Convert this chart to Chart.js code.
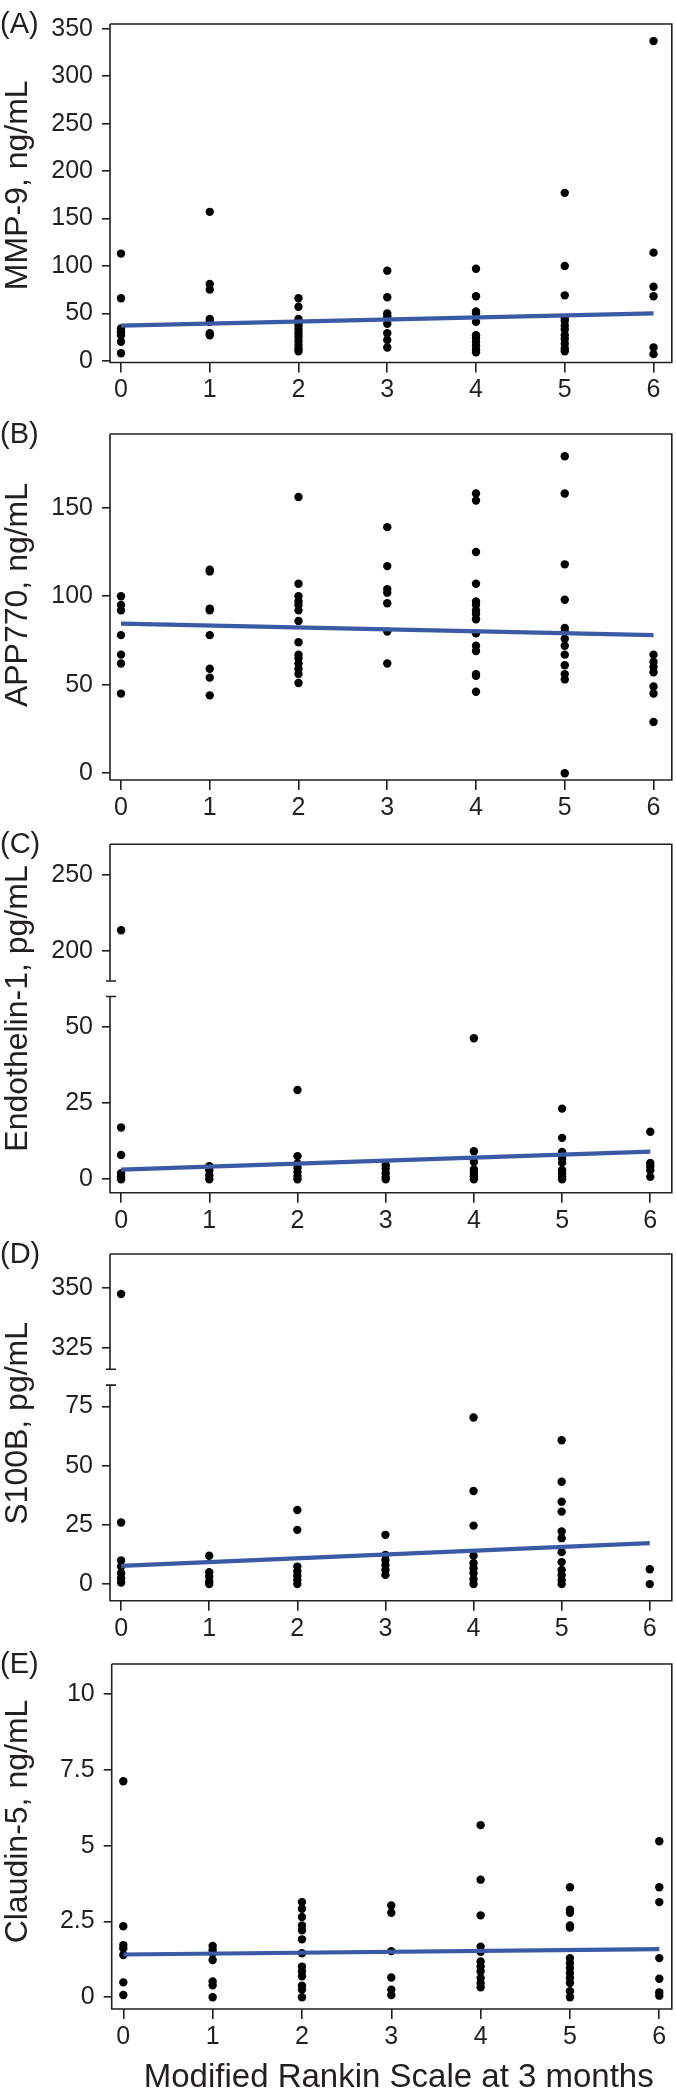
<!DOCTYPE html>
<html>
<head>
<meta charset="utf-8">
<title>Biomarkers by mRS at 3 months</title>
<script src="https://cdn.jsdelivr.net/npm/chart.js@4.4.1/dist/chart.umd.min.js"></script>
<style>
  body { margin: 0; background: #fff; width: 676px; height: 2088px; overflow: hidden; position: relative; }
  .panel { position: absolute; left: 0; }
</style>
</head>
<body>
<div class="panel" style="top:0"><canvas id="chartA" width="676" height="410"></canvas></div>
<div class="panel" style="top:410px"><canvas id="chartB" width="676" height="410"></canvas></div>
<div class="panel" style="top:820px"><canvas id="chartC" width="676" height="410"></canvas></div>
<div class="panel" style="top:1230px"><canvas id="chartD" width="676" height="410"></canvas></div>
<div class="panel" style="top:1640px"><canvas id="chartE" width="676" height="448"></canvas></div>
<script>
// modified Rankin Scale categories on the x axis
const mrsLevels = [0, 1, 2, 3, 4, 5, 6];
const xTitle = 'Modified Rankin Scale at 3 months';

// values per mRS group (index = mRS)
const mmp9 = [
  [113, 66, 34, 30, 27, 20, 8],
  [157, 81, 75, 44, 41, 29, 27],
  [66, 57, 44, 40, 37, 33, 29, 25, 21, 17, 13, 10],
  [95, 67, 50, 47, 39, 29, 22, 14],
  [97, 68, 52, 50, 41, 27, 24, 20, 16, 12, 9],
  [177, 100, 69, 45, 42, 37, 33, 27, 23, 18, 13, 10],
  [337, 114, 78, 68, 14, 7]
];
const mmp9Fit = [37, 50];
const mmp9Ticks = [0, 50, 100, 150, 200, 250, 300, 350];

const app770 = [
  [100, 95, 92, 78, 67, 62, 45],
  [115, 114, 93, 92, 78, 59, 54, 44],
  [156, 107, 100, 97, 95, 92, 86, 74, 67, 65, 62, 59, 56, 51],
  [139, 117, 104, 102, 96, 80, 62],
  [158, 154, 125, 107, 97, 95, 92, 90, 87, 79, 72, 69, 56, 55, 46],
  [179, 158, 118, 98, 82, 80, 76, 72, 67, 61, 56, 53, 0],
  [67, 63, 60, 57, 49, 45, 29]
];
const app770Fit = [84.5, 78];
const app770Ticks = [0, 50, 100, 150];

const endothelin1 = [
  [213.5, 17, 8, 2, 1, 0],
  [4.3, 3, 1.3, 0],
  [29.3, 7.6, 5.2, 3.8, 2.4, 1.1, 0],
  [4.6, 3.5, 2.1, 0.8, 0],
  [46.3, 9.2, 5.7, 3.2, 2.1, 1, 0],
  [23.2, 13.6, 9, 6.8, 5.4, 3, 1.9, 0.8, 0],
  [15.6, 5.4, 4.3, 3, 0.8]
];
const endothelin1Fit = [3.2, 9.1];
const endothelin1TicksLow = [0, 25, 50];
const endothelin1TicksHigh = [200, 250];
const endothelin1Break = [60, 180];

const s100b = [
  [347.5, 26, 10, 7.4, 4.6, 2.5, 0.7],
  [12, 5, 3.2, 1.1, 0],
  [31.3, 22.9, 7.4, 5.3, 3.5, 1.8, 0],
  [20.8, 12.3, 10.2, 8.1, 6, 3.9],
  [70.3, 39.3, 24.7, 12, 8.8, 6.7, 4.6, 2.1, 0],
  [60.7, 43.2, 34.8, 30.6, 22.2, 19.4, 13.5, 9.3, 6, 3.9, 1.8, 0],
  [6.3, 0]
];
const s100bFit = [7.7, 17.3];
const s100bTicksLow = [0, 25, 50, 75];
const s100bTicksHigh = [325, 350];
const s100bBreak = [84, 316];

const claudin5 = [
  [7.13, 2.34, 1.72, 1.61, 1.39, 0.49, 0.07],
  [1.69, 1.56, 1.45, 1.23, 0.52, 0.39, 0],
  [3.14, 2.92, 2.65, 2.37, 2.21, 1.91, 1.45, 1.01, 0.85, 0.69, 0.38, 0.25, 0],
  [3.03, 2.79, 1.52, 0.65, 0.25, 0.07],
  [5.68, 3.88, 2.7, 1.67, 1.5, 1.18, 1.01, 0.85, 0.63, 0.47, 0.33],
  [3.63, 2.89, 2.79, 2.37, 2.3, 1.29, 1.12, 0.96, 0.8, 0.63, 0.47, 0.2, 0],
  [5.15, 3.63, 3.14, 1.29, 0.61, 0.16, 0.05]
];
const claudin5Fit = [1.41, 1.59];
const claudin5Ticks = [0, 2.5, 5, 7.5, 10];

const inkColor = '#231f20';
const fitColor = '#3a5aa6';
const fontFamily = "'Liberation Sans', Arial, Helvetica, sans-serif";

Chart.defaults.font.family = fontFamily;
Chart.defaults.color = inkColor;

// box around the plot area; the left side is broken where the y axis is split
const framePlugin = {
  id: 'frame',
  afterDatasetsDraw(chart, args, opts) {
    const { ctx, chartArea: { left, right, top, bottom } } = chart;
    ctx.save();
    ctx.strokeStyle = inkColor;
    ctx.lineWidth = 1.6;
    ctx.beginPath();
    ctx.moveTo(left, top);
    ctx.lineTo(right, top);
    ctx.lineTo(right, bottom);
    ctx.lineTo(left, bottom);
    if (opts.breakAt) {
      const lowY = chart.scales.y.getPixelForValue(opts.breakAt[0]);
      const highY = chart.scales.yUp.getPixelForValue(opts.breakAt[1]);
      ctx.lineTo(left, lowY);
      ctx.moveTo(left - 4, lowY);
      ctx.lineTo(left + 6, lowY);
      ctx.moveTo(left - 4, highY);
      ctx.lineTo(left + 6, highY);
      ctx.moveTo(left, highY);
      ctx.lineTo(left, top);
    } else {
      ctx.lineTo(left, top);
    }
    ctx.stroke();
    ctx.restore();
  }
};

// panel letter, the rotated y title (centred over the whole, possibly split, axis)
// and the x title of the last panel
const panelTextPlugin = {
  id: 'panelText',
  afterDraw(chart, args, opts) {
    const { ctx, chartArea } = chart;
    ctx.save();
    ctx.fillStyle = inkColor;
    ctx.font = `29px ${fontFamily}`;
    ctx.textAlign = 'left';
    ctx.textBaseline = 'alphabetic';
    ctx.fillText(opts.letter, 0, chartArea.top + 9);
    if (opts.xTitle) {
      ctx.font = `33px ${fontFamily}`;
      ctx.textAlign = 'center';
      ctx.fillText(opts.xTitle, (chartArea.left + chartArea.right) / 2 + 7, chart.height - 1);
    }
    ctx.font = `32px ${fontFamily}`;
    ctx.translate(18, (chartArea.top + chartArea.bottom) / 2 + opts.titleShift);
    ctx.rotate(-Math.PI / 2);
    ctx.textAlign = 'center';
    ctx.textBaseline = 'middle';
    ctx.fillText(opts.title, 0, 0);
    ctx.restore();
  }
};

const toPoints = groups =>
  groups.flatMap((vals, i) => vals.map(v => ({ x: mrsLevels[i], y: v })));

const fitLine = fit => [
  { x: mrsLevels[0], y: fit[0] },
  { x: mrsLevels[mrsLevels.length - 1], y: fit[1] }
];

function yScale(range, ticks, width, extra) {
  return {
    type: 'linear',
    position: 'left',
    min: range[0],
    max: range[1],
    afterBuildTicks: s => { s.ticks = ticks.map(value => ({ value })); },
    afterFit: s => { s.width = width; },
    grid: { drawOnChartArea: false, tickLength: 8, color: inkColor, lineWidth: 1.6 },
    border: { display: false },
    ticks: { color: inkColor, font: { size: 25 }, padding: 9, autoSkip: false, callback: v => String(v) },
    ...extra
  };
}

function buildPanel(p) {
  const points = toPoints(p.values);
  const split = Boolean(p.breakAt);
  const lowPoints = split ? points.filter(pt => pt.y <= p.breakAt[0]) : points;
  const highPoints = split ? points.filter(pt => pt.y > p.breakAt[0]) : [];

  const scales = {
    x: {
      type: 'linear',
      min: p.xRange[0],
      max: p.xRange[1],
      afterBuildTicks: s => { s.ticks = mrsLevels.map(value => ({ value })); },
      afterFit: s => { s.height = p.xAxisHeight; },
      grid: { drawOnChartArea: false, tickLength: 10, color: inkColor, lineWidth: 1.6 },
      border: { display: false },
      ticks: { color: inkColor, font: { size: 25 }, padding: 3, autoSkip: false, maxRotation: 0 }
    }
  };
  if (split) {
    scales.y = yScale(p.yRange, p.ticksLow, p.yAxisWidth, { stack: 'broken', stackWeight: p.stackWeights[0] });
    scales.yUp = yScale(p.yRangeHigh, p.ticksHigh, p.yAxisWidth, { stack: 'broken', stackWeight: p.stackWeights[1] });
  } else {
    scales.y = yScale(p.yRange, p.ticks, p.yAxisWidth, {});
  }

  const dots = {
    type: 'scatter',
    backgroundColor: '#000',
    borderWidth: 0,
    pointRadius: 4.2,
    order: 1
  };
  const datasets = [
    {
      type: 'line',
      data: fitLine(p.fit),
      yAxisID: 'y',
      borderColor: fitColor,
      borderWidth: 4.2,
      pointRadius: 0,
      order: 0
    },
    { ...dots, data: lowPoints, yAxisID: 'y' }
  ];
  if (split) {
    datasets.push({ ...dots, data: highPoints, yAxisID: 'yUp' });
  }

  return new Chart(document.getElementById(p.id), {
    data: { datasets },
    options: {
      responsive: false,
      animation: false,
      devicePixelRatio: 1,
      layout: { padding: { top: p.padTop, right: 2.7, bottom: 0, left: 0 } },
      scales,
      plugins: {
        legend: { display: false },
        tooltip: { enabled: false },
        frame: { breakAt: p.breakAt || null },
        panelText: { letter: p.letter, title: p.title, titleShift: p.titleShift, xTitle: p.xTitle || '' }
      }
    },
    plugins: [framePlugin, panelTextPlugin]
  });
}

buildPanel({
  id: 'chartA', letter: '(A)', title: 'MMP-9, ng/mL',
  values: mmp9, fit: mmp9Fit, ticks: mmp9Ticks,
  yRange: [-1.8, 355], xRange: [-0.124, 6.206],
  padTop: 15, xAxisHeight: 47.5, yAxisWidth: 110, titleShift: -8
});

buildPanel({
  id: 'chartB', letter: '(B)', title: 'APP770, ng/mL',
  values: app770, fit: app770Fit, ticks: app770Ticks,
  yRange: [-3.8, 191.6], xRange: [-0.124, 6.206],
  padTop: 22.7, xAxisHeight: 40, yAxisWidth: 110, titleShift: -12
});

buildPanel({
  id: 'chartC', letter: '(C)', title: 'Endothelin-1, pg/mL',
  values: endothelin1, fit: endothelin1Fit,
  ticksLow: endothelin1TicksLow, ticksHigh: endothelin1TicksHigh, breakAt: endothelin1Break,
  yRange: [-4.4, 62.4], yRangeHigh: [174.6, 270.3], stackWeights: [203.5, 144.9],
  xRange: [-0.126, 6.244],
  padTop: 24.3, xAxisHeight: 37.3, yAxisWidth: 110, titleShift: -10
});

buildPanel({
  id: 'chartD', letter: '(D)', title: 'S100B, pg/mL',
  values: s100b, fit: s100bFit,
  ticksLow: s100bTicksLow, ticksHigh: s100bTicksHigh, breakAt: s100bBreak,
  yRange: [-7.0, 87.2], yRangeHigh: [312.5, 364.3], stackWeights: [224, 124],
  xRange: [-0.126, 6.25],
  padTop: 22.7, xAxisHeight: 39.3, yAxisWidth: 110, titleShift: -4
});

buildPanel({
  id: 'chartE', letter: '(E)', title: 'Claudin-5, ng/mL',
  values: claudin5, fit: claudin5Fit, ticks: claudin5Ticks,
  yRange: [-0.39, 11.0], xRange: [-0.13, 6.14],
  padTop: 21.7, xAxisHeight: 79, yAxisWidth: 111.7, titleShift: -15,
  xTitle: xTitle
});
</script>
</body>
</html>
